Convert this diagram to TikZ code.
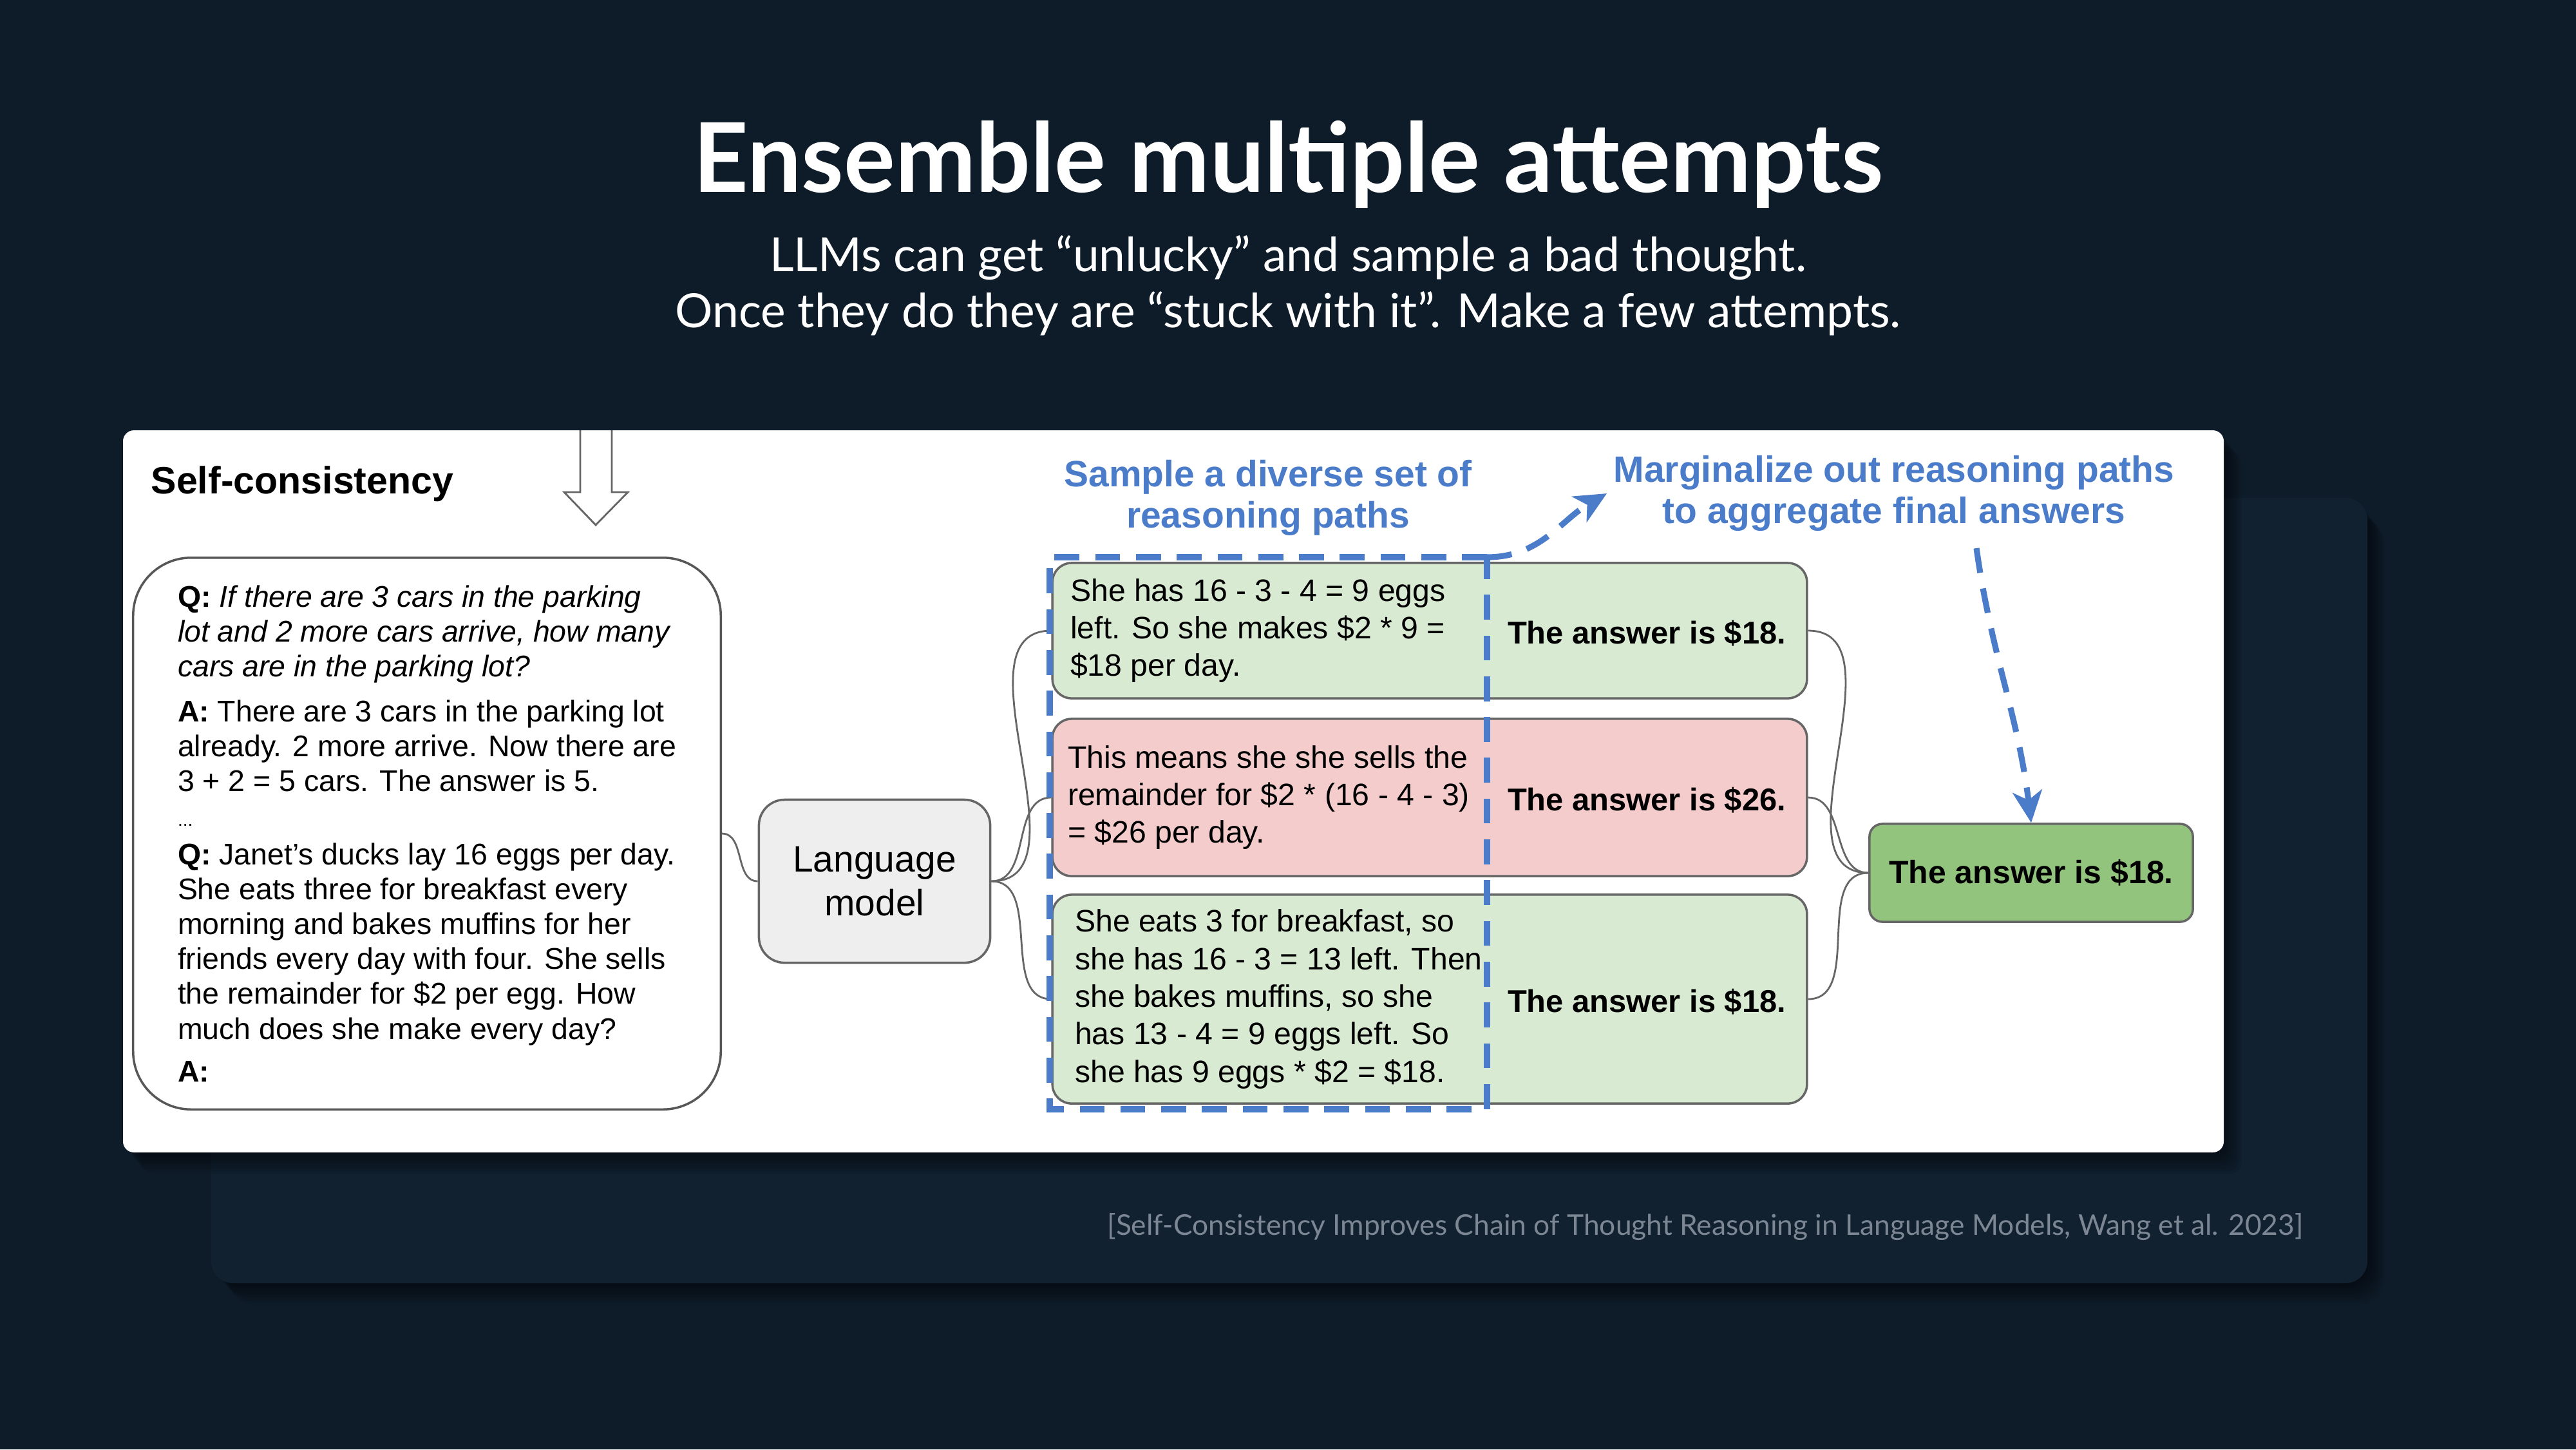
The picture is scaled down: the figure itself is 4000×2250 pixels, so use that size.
\documentclass[tikz,border=0pt]{standalone}
\usepackage{fontspec}
\setmainfont{Liberation Sans}
\newfontfamily\slidefont{Lato}
\usetikzlibrary{arrows.meta}
\definecolor{slidebg}{HTML}{0E1C2A}
\definecolor{panelbg}{HTML}{112130}
\definecolor{pathblue}{HTML}{4A7CC9}
\definecolor{okfill}{HTML}{D9EAD3}
\definecolor{badfill}{HTML}{F4CCCC}
\definecolor{finalfill}{HTML}{93C47D}
\definecolor{lmfill}{HTML}{EEEEEE}
\definecolor{edgegray}{HTML}{666666}
\definecolor{citegray}{HTML}{7D8794}
\tikzset{
  box/.style={draw=edgegray,line width=1pt,rounded corners=8.5pt,inner sep=0pt},
  reason/.style={anchor=west,align=left,inner sep=0pt,font=\fontsize{13.7}{16.6}\selectfont},
  answer/.style={inner sep=0pt,font=\fontsize{13.9}{16}\selectfont\bfseries},
  link/.style={draw=edgegray,line width=0.8pt},
  bluedash/.style={pathblue,line width=2.6pt,dash pattern=on 11pt off 7pt},
  bluetip/.style={-{Stealth[length=14pt,width=13pt,inset=4pt]}},
  bluelabel/.style={text=pathblue,align=center,inner sep=0pt,font=\fontsize{16.2}{18.4}\selectfont\bfseries}
}
\begin{document}
\begin{tikzpicture}[x=0.01cm,y=0.01cm]
  \fill[slidebg] (0,0) rectangle (4000,-2250);
  \useasboundingbox (0,0) rectangle (4000,-2250);
  \node[anchor=base,text=white,font=\slidefont\fontsize{42.5}{48}\selectfont\bfseries] (T) at (2000,-298) {Ensemble multiple attempts};
  \node[anchor=base,text=white,font=\slidefont\fontsize{20.8}{25}\selectfont] (T1) at (2000,-421) {LLMs can get “unlucky” and sample a bad thought.};
  \node[anchor=base,text=white,font=\slidefont\fontsize{20.8}{25}\selectfont] (T2) at (2000,-508) {Once they do they are “stuck with it”. Make a few attempts.};
  \foreach \k in {1,...,8}{
    \pgfmathsetmacro{\d}{3.5*\k}
    \fill[black,opacity=0.07,rounded corners=0.4cm] ({328+\d},{-773-1.2*\d}) rectangle ({3676+\d},{-1992-1.2*\d});
  }
  \fill[panelbg,rounded corners=0.34cm] (328,-773) rectangle (3676,-1992);
  \node[anchor=base east,text=citegray,inner sep=0pt,font=\slidefont\fontsize{12.6}{14}\selectfont] (R) at (3577,-1917) {[Self-Consistency Improves Chain of Thought Reasoning in Language Models, Wang et al. 2023]};
  \foreach \k in {1,...,8}{
    \pgfmathsetmacro{\d}{3.5*\k}
    \fill[black,opacity=0.07,rounded corners=0.2cm] ({191+\d},{-668-1.2*\d}) rectangle ({3453+\d},{-1789-1.2*\d});
  }
  \fill[white,rounded corners=0.17cm] (191,-668) rectangle (3453,-1789);
  \node[anchor=base west,inner sep=0pt,font=\fontsize{16.8}{19}\selectfont\bfseries] (H) at (234,-766) {Self-consistency};
  \draw[edgegray,fill=white,line width=0.8pt] (901,-668) -- (901,-764) -- (876,-764) -- (925,-815) -- (975,-764) -- (950,-764) -- (950,-668);
  \node[box,draw=edgegray!85!black,rounded corners=0.9cm,minimum width=9.12cm,minimum height=8.56cm,align=left,font=\fontsize{13.2}{15.4}\selectfont] (Q) at (663,-1294) {%
    \textbf{Q:} \textit{If there are 3 cars in the parking}\\
    \textit{lot and 2 more cars arrive, how many}\\
    \textit{cars are in the parking lot?}\\[4.5pt]
    \textbf{A:} There are 3 cars in the parking lot\\
    already. 2 more arrive. Now there are\\
    3 + 2 = 5 cars. The answer is 5.\\
    {\fontsize{8}{9}\selectfont ...}\\[1.5pt]
    \textbf{Q:} Janet’s ducks lay 16 eggs per day.\\
    She eats three for breakfast every\\
    morning and bakes muffins for her\\
    friends every day with four. She sells\\
    the remainder for \$2 per egg. How\\
    much does she make every day?\\[3.5pt]
    \textbf{A:}};
  \node[box,fill=lmfill,rounded corners=0.4cm,minimum width=3.59cm,minimum height=2.53cm,align=center,font=\fontsize{16.2}{19.3}\selectfont] (LM) at (1358,-1368) {Language\\model};
  \node[box,fill=okfill,minimum width=11.71cm,minimum height=2.10cm] (pathA) at (2220,-979) {};
  \node[box,fill=badfill,minimum width=11.71cm,minimum height=2.44cm] (pathB) at (2220,-1238) {};
  \node[box,fill=okfill,minimum width=11.71cm,minimum height=3.24cm] (pathC) at (2220,-1551) {};
  \node[reason] (stepA) at ([xshift=0.29cm]pathA.west) {She has 16 - 3 - 4 = 9 eggs\\left. So she makes \$2 * 9 =\\\$18 per day.};
  \node[reason] (stepB) at ([xshift=0.25cm]pathB.west) {This means she she sells the\\remainder for \$2 * (16 - 4 - 3)\\= \$26 per day.};
  \node[reason] (stepC) at ([xshift=0.36cm]pathC.west) {She eats 3 for breakfast, so\\she has 16 - 3 = 13 left. Then\\she bakes muffins, so she\\has 13 - 4 = 9 eggs left. So\\she has 9 eggs * \$2 = \$18.};
  \node[answer] (ansA) at (2557,-983) {The answer is \$18.};
  \node[answer] (ansB) at (2557,-1242) {The answer is \$26.};
  \node[answer] (ansC) at (2557,-1555) {The answer is \$18.};
  \node[box,fill=finalfill,rounded corners=0.2cm,minimum width=5.02cm,minimum height=1.52cm,font=\fontsize{14.2}{16}\selectfont\bfseries] (F) at (3154,-1355) {The answer is \$18.};
  \draw[link] (Q.east) to[out=0,in=180] (LM.west);
  \foreach \p in {pathA,pathB,pathC}{
    \draw[link] (LM.east) to[out=0,in=180] (\p.west);
    \draw[link] (\p.east) to[out=0,in=180] (F.west);
  }
  \node[bluelabel] (S) at (1969,-773) {Sample a diverse set of\\reasoning paths};
  \node[bluelabel] (M) at (2941,-766) {Marginalize out reasoning paths\\to aggregate final answers};
  \coordinate (dTR) at (2309,-865);
  \coordinate (dBL) at (1630,-1722);
  \coordinate (mOut) at (3069,-851);
  \draw[bluedash] (dTR) -- (dTR -| dBL) -- (dBL) -- (dBL -| dTR) -- cycle;
  \draw[bluedash,bluetip] (dTR) to[out=0,in=210] ([xshift=-0.1cm]M.west);
  \draw[bluedash,bluetip] (mOut) to[out=-82,in=97] (F.north);
\end{tikzpicture}
\end{document}
